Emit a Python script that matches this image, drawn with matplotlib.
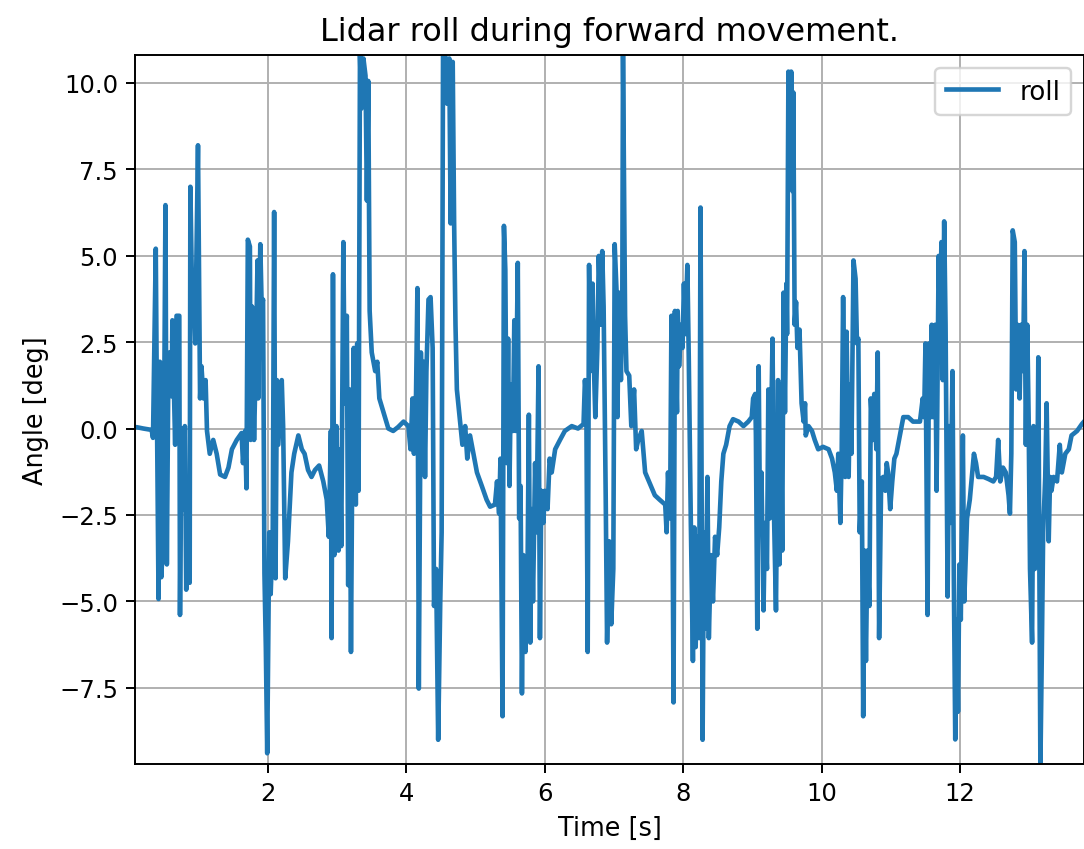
"""
    Lidar roll angle during forward movement
"""
import numpy as np
import matplotlib.pyplot as plt

# time [s] and roll angle [deg]
time = [0.08, 0.10, 0.20, 0.32, 0.34, 0.38, 0.40, 0.42, 0.44, 0.46, 0.49, 0.52, 0.54, 0.56, 0.58,
        0.61, 0.62, 0.66, 0.68, 0.72, 0.73, 0.75, 0.78, 0.80, 0.82, 0.85, 0.87, 0.88, 0.91, 0.93,
        0.95, 0.99, 1.02, 1.04, 1.07, 1.10, 1.12, 1.16, 1.21, 1.26, 1.31, 1.38, 1.43, 1.48, 1.55,
        1.62, 1.64, 1.67, 1.69, 1.71, 1.74, 1.75, 1.77, 1.80, 1.83, 1.85, 1.86, 1.89, 1.91, 1.93,
        1.95, 1.97, 1.99, 2.02, 2.04, 2.07, 2.09, 2.11, 2.13, 2.15, 2.20, 2.22, 2.25, 2.29,
        2.34, 2.38, 2.44, 2.49, 2.53, 2.58, 2.63, 2.68, 2.74, 2.80, 2.85, 2.88, 2.91, 2.92, 2.94,
        2.96, 2.99, 3.02, 3.04, 3.06, 3.09, 3.11, 3.14, 3.16, 3.18, 3.20, 3.22, 3.24, 3.27, 3.29,
        3.31, 3.33, 3.35, 3.38, 3.41, 3.43, 3.45, 3.47, 3.50, 3.55, 3.58, 3.61, 3.67, 3.74, 3.81,
        3.88, 3.96, 4.03, 4.06, 4.09, 4.11, 4.14, 4.16, 4.18, 4.21, 4.23, 4.25, 4.27, 4.29, 4.32,
        4.35, 4.38, 4.40, 4.43, 4.46, 4.49, 4.51, 4.53, 4.56, 4.59, 4.62, 4.64, 4.67,
        4.69, 4.71, 4.73, 4.77, 4.81, 4.85, 4.88, 4.92, 4.97, 5.02, 5.09, 5.16, 5.21, 5.28, 5.31,
        5.34, 5.36, 5.39, 5.41, 5.43, 5.45, 5.47, 5.49, 5.51, 5.54, 5.56, 5.58, 5.61, 5.63, 5.65,
        5.67, 5.69, 5.72, 5.75, 5.77, 5.79, 5.81, 5.83, 5.86, 5.88, 5.91, 5.93, 5.95, 5.98, 6.00,
        6.04, 6.07, 6.10, 6.15, 6.22, 6.29, 6.39, 6.48, 6.56, 6.58, 6.60, 6.62, 6.64, 6.66, 6.69,
        6.71, 6.73, 6.76, 6.78, 6.81, 6.83, 6.85, 6.88, 6.90, 6.93, 6.96, 6.99, 7.01, 7.04,
        7.05, 7.07, 7.10, 7.12, 7.13, 7.16, 7.18, 7.22, 7.25, 7.29, 7.32, 7.35, 7.40, 7.45, 7.52,
        7.59, 7.66, 7.74, 7.76, 7.78, 7.81, 7.83, 7.86, 7.88, 7.91, 7.92, 7.94, 7.97, 7.99, 8.01,
        8.03, 8.06, 8.08, 8.11, 8.14, 8.16, 8.18, 8.21, 8.23, 8.25, 8.28, 8.30, 8.32, 8.35, 8.37,
        8.40, 8.43, 8.46, 8.49, 8.52, 8.55, 8.58, 8.62, 8.67, 8.72, 8.80, 8.87, 8.94, 8.99, 9.01,
        9.04, 9.05, 9.07, 9.09, 9.11, 9.13, 9.16, 9.18, 9.21, 9.23, 9.25,
        9.29, 9.31, 9.34, 9.37, 9.39, 9.41, 9.43, 9.45, 9.47, 9.49, 9.50, 9.52, 9.54, 9.56, 9.58,
        9.59, 9.61, 9.63, 9.65, 9.68, 9.71, 9.74, 9.76, 9.77, 9.81, 9.86, 9.90, 9.95, 10.02, 10.10,
        10.15, 10.19, 10.22, 10.24, 10.27, 10.29, 10.31, 10.34, 10.36, 10.39, 10.41, 10.43, 10.46,
        10.49, 10.51, 10.53, 10.55, 10.58, 10.60, 10.62, 10.64, 10.66, 10.69, 10.71, 10.74, 10.76,
        10.79, 10.81, 10.83, 10.86, 10.89, 10.92, 10.94, 10.96, 10.99, 11.02, 11.05, 11.08, 11.13,
        11.18, 11.25, 11.32, 11.42, 11.46, 11.48, 11.50, 11.53, 11.55, 11.58,
        11.59, 11.61, 11.64, 11.66, 11.69, 11.71, 11.73, 11.75, 11.77, 11.79, 11.82, 11.84, 11.86,
        11.89, 11.91, 11.93, 11.95, 11.97, 11.99, 12.01, 12.04, 12.06, 12.10, 12.14, 12.17, 12.20,
        12.23, 12.26, 12.34, 12.41, 12.48, 12.52, 12.55, 12.58, 12.62, 12.66, 12.70, 12.72, 12.74,
        12.76, 12.79, 12.81, 12.83, 12.86, 12.88, 12.91, 12.93, 12.95, 12.97, 12.99, 13.01, 13.04,
        13.06, 13.08, 13.11, 13.13, 13.16, 13.18, 13.20, 13.23, 13.25, 13.28, 13.30, 13.32, 13.35,
        13.40, 13.44, 13.47, 13.52, 13.57, 13.61, 13.69, 13.76, 13.79]

roll = [0.03, 0.04, 0.0, -0.04, -0.27, 5.2, -0.27, -4.93, 1.93, -4.3, -3.0, 6.46, -3.93, 1.13, 2.2,
        0.93, 3.13, -0.47, 3.26, 3.26, -5.39, 0.0, -2.33, 0.07, -4.66, -1.93, -4.46, 6.99, 3.13, 3.8,
        2.46, 8.19, 0.87, 1.8, 0.87, 1.4, -0.07, -0.73, -0.33, -0.73, -1.33, -1.4, -1.13, -0.6, -0.33,
        -0.13, -1.0, -0.07, -1.73, 5.46, 5.26, -0.33, 3.53, -0.33, 2.46, 4.86, 0.87, 5.33, 3.53, 3.73,
        -4.19, -6.32, -9.39, -3.0, -4.79, -3.0, 6.26, -4.33, 1.4, -0.47, 1.4, 0.07, -4.33, -3.26,
        -1.27, -0.73, -0.2, -0.6, -0.73, -1.2, -1.4, -1.2, -1.07, -1.53, -2.06, -3.13, -0.07, -6.06, 4.46,
        -3.66, 0.07, -3.53, -0.6, -3.4, 5.39, 0.73, 3.26, -4.53, 1.13, -6.46, -0.6, 2.33, -2.2, 2.46,
        -1.8, 10.85, 9.25, 10.7, 10.2, 6.59, 10.05, 3.4, 2.2, 1.66, 1.93, 0.87, 0.47, 0.0, -0.07,
        0.04, 0.2, 0.07, -0.6, 0.87, -0.73, 1.0, 4.06, -7.52, 2.2, -0.2, 1.93, -1.4, 1.66, 3.73,
        3.8, 2.33, -5.13, -4.06, -9.0, -5.0, -3.0, 10.85, 10.9, 9.39, 10.7, 5.93, 10.6,
        6.0, 3.0, 1.13, 0.33, -0.47, 0.07, -0.87, -0.2, -0.73, -1.27, -1.66, -2.06, -2.26, -2.2, -1.53,
        -2.46, -0.87, -8.32, 5.86, 4.59, -1.0, 2.6, -1.66, 1.27, -0.07, 3.13, -0.07, 4.79, -2.6, -1.66,
        -7.66, -3.66, -6.46, -4.33, 0.4, -6.19, -2.33, -5.0, -1.0, -3.0, 1.8, -6.06, -1.8, -2.73, -1.8,
        -2.33, -0.87, -1.27, -0.6, -0.33, -0.07, 0.07, 0.0, 0.13, 1.4, 0.87, -6.46, 4.73, 1.66, 4.19,
        1.8, 0.33, 2.33, 4.99, 3.0, 5.13, 3.53, -1.93, -6.19, -3.26, -5.66, -4.06, 5.33, 3.8,
        0.33, 3.93, 1.4, 3.8, 10.85, 3.26, 1.66, 1.53, 0.07, 1.13, -0.6, -0.33, -0.07, -1.27, -1.6,
        -1.93, -2.06, -2.2, -3.0, -1.27, -2.6, 3.26, -7.92, 3.4, 0.47, 3.4, 1.8, 3.0, 2.33, 4.19,
        2.73, 4.73, 2.06, -2.73, -6.72, -2.86, -6.32, -3.13, -6.06, 6.39, -9.0, -3.0, -5.79, -1.4, -6.06,
        -3.66, -5.0, -3.13, -3.66, -2.86, -1.53, -0.73, -0.47, 0.07, 0.27, 0.2, 0.07, 0.2, 0.33, 0.87,
        1.0, -0.2, -5.79, 1.8, -3.0, -1.27, -5.26, -2.73, -4.06, 1.13, -2.6,
        2.6, -2.33, -5.26, 1.4, -3.93, 1.27, -3.53, 3.93, 0.47, 4.19, 2.73, 10.32, 6.99, 10.32, 6.86,
        9.72, 3.0, 3.66, 2.33, 2.86, 0.73, 0.2, 0.73, -0.2, 0.07, -0.07, -0.33, -0.6, -0.53, -0.6,
        -0.87, -1.27, -1.8, -0.73, -2.73, -0.6, 3.8, -1.4, 2.8, -1.4, 1.27, -0.73, 4.86,
        4.33, 2.46, 2.6, -3.0, -1.53, -8.32, -3.53, -6.72, -3.53, -5.13, 0.87, -0.33, 1.0,
        -0.6, 2.2, -6.06, -1.46, -1.4, -1.8, -1.0, -1.27, -2.33, -1.53, -0.87, -0.73, -0.2,
        0.33, 0.33, 0.2, 0.2, 0.87, 0.33, 2.46, -5.39, 2.46, 0.33,
        3.0, 0.33, 3.0, -1.8, 4.99, 3.0, 5.39, 1.4, 5.99, 3.0, -4.86, 0.07, -2.73,
        1.66, -4.46, -8.99, -5.53, -8.19, -3.93, -5.53, -0.2, -5.0, -2.6, -2.06, -1.4, -0.73,
        -1.0, -1.4, -1.4, -1.46, -1.53, -1.4, -0.33, -1.53, -1.13, -1.27, -1.93, -2.46, -0.73,
        5.73, 5.39, 1.13, 3.0, 0.87, 3.0, 1.66, 5.13, -0.47, 3.0, 0.33, -4.06, -6.19,
        0.07, -4.06, -3.4, 2.06, -9.8, -6.59, -3.0, -1.4, 0.73, -3.26, -1.4, -1.8, -1.4,
        -1.53, -0.47, -1.27, -0.73, -0.6, -0.2, -0.07, 0.13, 0.2]

fig = plt.figure(figsize=(1084/175, 850/175), dpi=175)
ax = fig.add_axes([135/1084, 85/850, 949/1084, 709/850])
ax.plot(time, roll, label="roll", linewidth=1.9)
ax.set_title("Lidar roll during forward movement.", fontsize=13.2)
ax.set_xlabel("Time [s]", fontsize=10.5)
ax.set_ylabel("Angle [deg]", fontsize=10.5)
ax.set_xlim(0.08, 13.79)
ax.set_ylim(-9.7, 10.8)
ax.set_xticks([2, 4, 6, 8, 10, 12])
ax.set_yticks(np.arange(-7.5, 10.1, 2.5))
ax.grid()
ax.legend(loc="upper right", fontsize=10.8)
fig.savefig("out.png", dpi=175)
